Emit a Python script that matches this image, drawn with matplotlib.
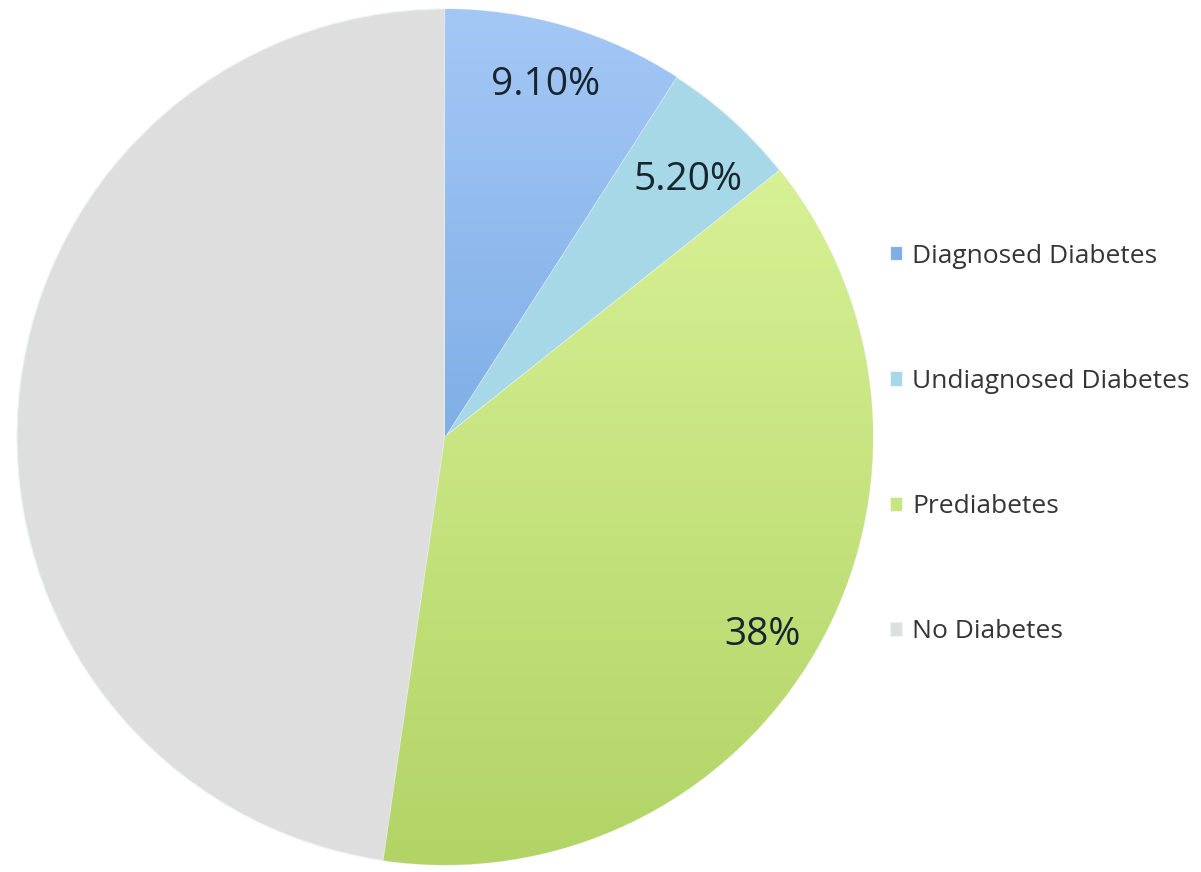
import matplotlib
matplotlib.use('Agg')
import matplotlib.pyplot as plt
import numpy as np
from matplotlib.colors import LinearSegmentedColormap

categories = ['Diagnosed Diabetes', 'Undiagnosed Diabetes', 'Prediabetes', 'No Diabetes']
values = [9.1, 5.2, 38.0, 47.7]
pct_labels = ['9.10%', '5.20%', '38%', '']

# flat base colours + top/bottom gradient ends
base_colors = ['#7eaee8', '#a6d8e8', '#c8e67e', '#dedede']
gradients = [('#a4c8f6', '#5b95d6'), None, ('#e0f7a0', '#b2d466'), None]
label_pos = [(0.234, 0.822), (0.568, 0.600), (0.741, -0.463), None]

plt.rcParams['font.family'] = ['Open Sans', 'DejaVu Sans']

W, H = 1201, 872
fig = plt.figure(figsize=(W / 100, H / 100), dpi=100)
cx, cy, r = 445, 437, 428
ax = fig.add_axes([(cx - r) / W, (H - cy - r) / H, 2 * r / W, 2 * r / H])
ax.set_xlim(-1, 1)
ax.set_ylim(-1, 1)
ax.axis('off')

wedges, _ = ax.pie(values, colors=base_colors, startangle=90, counterclock=False,
                   radius=1, wedgeprops=dict(linewidth=0.8, edgecolor='#eef3f3'))

for w, g in zip(wedges, gradients):
    if g is None:
        continue
    cmap = LinearSegmentedColormap.from_list('g', [g[1], g[0]])
    grad = np.linspace(0, 1, 256).reshape(-1, 1)
    im = ax.imshow(grad, cmap=cmap, extent=[-1, 1, -1, 1], origin='lower',
                   aspect='auto', zorder=w.get_zorder() + 0.1)
    im.set_clip_path(w)

for txt, pos in zip(pct_labels, label_pos):
    if pos is None:
        continue
    ax.text(pos[0], pos[1], txt, ha='center', va='center', fontsize=28,
            color='#18252e', zorder=10)

ax.set_xlim(-1, 1)
ax.set_ylim(-1, 1)

leg = fig.legend(wedges, categories, loc='center left',
                 bbox_to_anchor=(866 / W, 1 - 444 / H), frameon=False,
                 fontsize=19, labelspacing=3.8, handlelength=0.45,
                 handleheight=0.45, handletextpad=0.4, labelcolor='#353535')

fig.savefig('out.png', dpi=100)
